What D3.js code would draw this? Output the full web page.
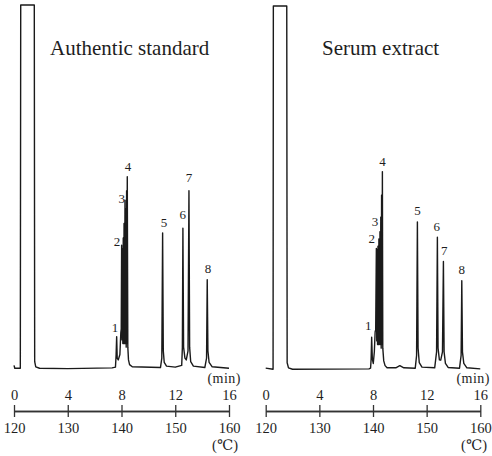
<!DOCTYPE html>
<html>
<head>
<meta charset="utf-8">
<script src="https://cdnjs.cloudflare.com/ajax/libs/d3/7.8.5/d3.min.js"></script>
<style>
body {margin:0; background:#fff}
text {font-family:"Liberation Serif","DejaVu Serif",serif; fill:#1e1e1e}
</style>
</head>
<body>
<svg></svg>
<script>

// time axis (min) and column temperature (C)
var timeTicks = [0, 4, 8, 12, 16]
var tempTicks = [120, 130, 140, 150, 160]
var peakNames = ["1", "2", "3", "4", "5", "6", "7", "8"]

// trace points [min, relative response]
var standardTrace = [
  [0,1],[0.06,0.2],[0.47,0.2],[0.5,100],[1.51,100],[1.54,2],[1.62,0.6],[1.9,0.2],[4,0.1],[7.3,0.3],
  [7.55,0.5],[7.6,4],[7.64,8.9],[7.68,3],[7.76,2.5],[7.88,4],[7.95,10],[7.98,11],
  [8.01,34],[8.04,8],[8.07,33],[8.10,7],[8.13,36],[8.16,7],[8.19,40],[8.22,7],[8.26,46.4],[8.29,7],
  [8.32,44],[8.35,6],[8.38,49],[8.40,7],[8.43,52.8],[8.47,6],[8.52,2.5],[8.6,1.2],[8.8,0.6],
  [10.9,0.4],[11.0,3],[11.06,37.4],[11.11,5],[11.18,1.8],[11.35,0.8],[12.0,0.5],
  [12.48,1],[12.53,6],[12.57,38.7],[12.62,6],[12.72,3],[12.82,2.5],[12.95,5],[13.02,49],[13.07,6],
  [13.15,2],[13.35,0.8],[14.2,0.4],[14.33,3],[14.38,24.5],[14.43,5],[14.52,1.8],[14.75,0.6],[16,0.2]
]
var serumTrace = [
  [0,0.5],[0.55,0.2],[0.57,100],[1.57,100],[1.6,2],[1.7,0.6],[2.0,0.2],[7.7,0.3],
  [7.82,0.5],[7.86,3],[7.90,9],[7.95,3],[8.02,1.8],[8.1,5],[8.16,10.5],[8.2,11],
  [8.25,33.4],[8.28,8],[8.31,33],[8.34,7],[8.37,34],[8.40,7],[8.44,36],[8.47,7],[8.52,38],[8.55,7],
  [8.58,42],[8.61,6],[8.64,48],[8.67,7],[8.70,54.5],[8.73,6],[8.8,2.5],[8.9,1.2],[9.05,0.6],
  [9.7,0.6],[10.0,1.2],[10.3,0.6],[11.15,0.5],[11.25,4],[11.31,40.7],[11.36,6],[11.45,2],[11.65,0.8],
  [12.6,0.6],[12.74,5],[12.80,36.5],[12.85,6],[12.95,2.8],[13.05,2.7],[13.18,5],[13.25,29.8],[13.30,5],
  [13.4,1.8],[13.6,0.7],[14.45,0.5],[14.57,4],[14.62,24.5],[14.67,5],[14.77,1.8],[15.0,0.6],[16,0.3]
]

// where the peak numbers sit [min, response]
var standardLabels = [[7.51,10.3],[7.66,33.7],[8.01,45.5],[8.48,54.3],[11.16,39.1],[12.55,41.1],[13.02,51.5],[14.43,26.5]]
var serumLabels = [[7.65,11.1],[7.90,34.8],[8.15,39.5],[8.70,56.0],[11.31,42.5],[12.75,38.3],[13.32,31.7],[14.62,26.5]]

var screen = {width: 492, height: 456}
var serif = "'Liberation Serif', 'DejaVu Serif', serif"
var svg = d3.select("svg").attr("width", screen.width).attr("height", screen.height)

var panels = [
  {title: "Authentic standard", titleX: 50, trace: standardTrace, labels: standardLabels, x0: 14, x1: 229, base: 369, top: 5, unitX: 241},
  {title: "Serum extract", titleX: 322, trace: serumTrace, labels: serumLabels, x0: 265.7, x1: 480.3, base: 370, top: 6, unitX: 490}
]

var axisY = 411

panels.forEach(function (p) {
  var xScale = d3.scaleLinear().domain([0, 16]).range([p.x0, p.x1])
  var tScale = d3.scaleLinear().domain([120, 160]).range([p.x0, p.x1])
  var yScale = d3.scaleLinear().domain([0, 100]).range([p.base, p.top])

  var g = svg.append("g").attr("font-family", serif)

  var line = d3.line()
    .x(function (d) { return xScale(d[0]) })
    .y(function (d) { return yScale(d[1]) })

  g.append("path")
    .datum(p.trace)
    .attr("d", line)
    .attr("fill", "none")
    .attr("stroke", "#1a1a1a")
    .attr("stroke-width", 1.4)
    .attr("stroke-linejoin", "round")

  g.selectAll(".peak")
    .data(p.labels)
    .enter()
    .append("text")
    .attr("class", "peak")
    .attr("x", function (d) { return xScale(d[0]) })
    .attr("y", function (d) { return yScale(d[1]) })
    .attr("text-anchor", "middle")
    .style("font-size", "13px")
    .text(function (d, i) { return peakNames[i] })

  g.append("text")
    .attr("x", p.titleX)
    .attr("y", 55)
    .style("font-size", "21px")
    .text(p.title)

  // minutes above the line, temperature below
  g.append("g")
    .attr("transform", "translate(0," + axisY + ")")
    .call(d3.axisTop(xScale).tickValues(timeTicks).tickSizeInner(6).tickSizeOuter(0).tickPadding(5))
  g.append("g")
    .attr("transform", "translate(0," + axisY + ")")
    .call(d3.axisBottom(tScale).tickValues(tempTicks).tickSizeInner(6).tickSizeOuter(0).tickPadding(6))

  g.selectAll(".domain, .tick line").attr("stroke", "#333").attr("stroke-width", 1.3)
  g.selectAll(".tick text")
    .attr("font-family", serif)
    .style("font-family", serif)
    .style("font-size", "14.5px")
    .attr("fill", "#1e1e1e")

  g.append("text")
    .attr("x", p.unitX)
    .attr("y", 383)
    .attr("text-anchor", "end")
    .style("font-size", "14px")
    .style("letter-spacing", "0.5px")
    .text("(min)")

  g.append("text")
    .attr("x", p.unitX - 3)
    .attr("y", 450)
    .attr("text-anchor", "end")
    .style("font-size", "14.5px")
    .text("(℃)")
})

</script>
</body>
</html>
